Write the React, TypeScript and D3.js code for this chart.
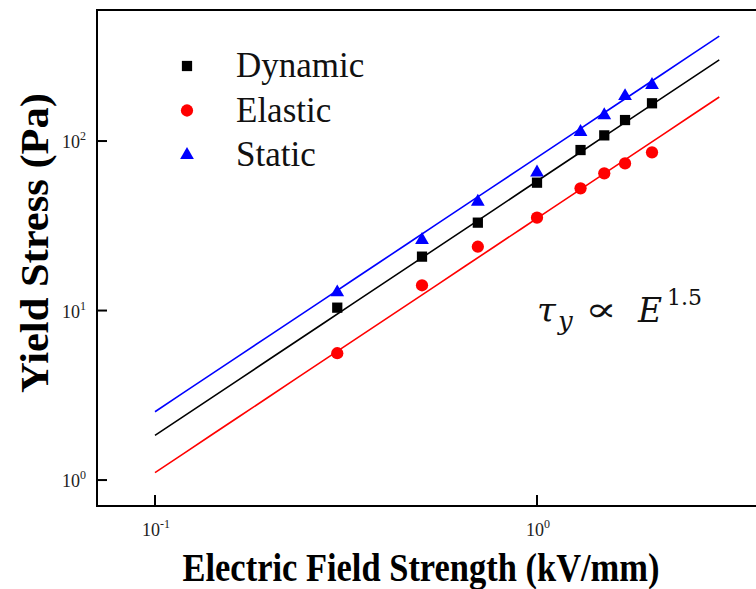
import React from "react";
import * as d3 from "d3";

// Electric field strength (kV/mm) at which yield stress was measured
const fieldStrength = [0.3, 0.5, 0.7, 1.0, 1.3, 1.5, 1.7, 2.0];
// Yield stress (Pa) for each measurement mode
const dynamicStress = [10.4, 20.8, 33.0, 56.8, 88.5, 108, 133, 167];
const elasticStress = [5.6, 14.1, 23.8, 35.3, 52.6, 64.5, 73.8, 85.8];
const staticStress = [12.8, 26.1, 43.8, 65.2, 113, 142, 184, 214];

// Power-law fits  tau = k * E^1.5
const fitExponent = 1.5;
const fitCoefficients = { dynamic: 58, elastic: 35, static: 80 };
const fitRange = [0.1, 3.0];

const xTicks = [0.1, 1];
const xTickExponents = ["-1", "0"];
const yTicks = [1, 10, 100];
const yTickExponents = ["0", "1", "2"];

const W = 756;
const H = 589;
const FONT = "'Liberation Serif', 'Times New Roman', serif";
const MATH_FONT = "'DejaVu Serif', 'Liberation Serif', serif";

export default function App() {
  const x = d3.scaleLog().domain([0.0705, 4.0]).range([97, 767]);
  const y = d3.scaleLog().domain([0.703, 593]).range([506, 10]);

  const series = [
    { key: "dynamic", name: "Dynamic", values: dynamicStress, color: "#000000", symbol: d3.symbolSquare, size: 105 },
    { key: "elastic", name: "Elastic", values: elasticStress, color: "#ff0000", symbol: d3.symbolCircle, size: 118 },
    { key: "static", name: "Static", values: staticStress, color: "#0000ff", symbol: d3.symbolTriangle, size: 82 },
  ] as const;

  const fitLine = (k: number) => {
    const pts = d3.range(0, 21).map((i) => {
      const e = Math.exp(Math.log(fitRange[0]) + (Math.log(fitRange[1]) - Math.log(fitRange[0])) * (i / 20));
      return [e, k * Math.pow(e, fitExponent)] as [number, number];
    });
    return d3
      .line<[number, number]>()
      .x((d) => x(d[0]))
      .y((d) => y(d[1]))(pts) as string;
  };

  const [x0, x1] = x.range();
  const [yb, yt] = y.range();

  return (
    <svg
      width={W}
      height={H}
      style={{ position: "absolute", left: 0, top: 0, background: "#fff" }}
      fontFamily={FONT}
    >
      <rect width={W} height={H} fill="#fff" />

      {/* fitted power-law lines */}
      {series.map((s) => (
        <path
          key={"fit-" + s.key}
          d={fitLine(fitCoefficients[s.key])}
          fill="none"
          stroke={s.color}
          strokeWidth={1.6}
        />
      ))}

      {/* measured points */}
      {series.map((s) =>
        s.values.map((v, i) => (
          <path
            key={s.key + i}
            transform={`translate(${x(fieldStrength[i])},${y(v)})`}
            d={d3.symbol(s.symbol, s.size)() as string}
            fill={s.color}
          />
        ))
      )}

      {/* frame */}
      <line x1={x0} x2={x1} y1={yt} y2={yt} stroke="#000" strokeWidth={2} />
      <line x1={x0} x2={x0} y1={yt - 1} y2={yb + 1} stroke="#000" strokeWidth={2} />
      <line x1={x0 - 1} x2={x1} y1={yb} y2={yb} stroke="#000" strokeWidth={2} />

      {/* y ticks */}
      {yTicks.map((t, i) => (
        <g key={"yt" + t}>
          <line x1={x0} x2={x0 + 10} y1={y(t)} y2={y(t)} stroke="#000" strokeWidth={2} />
          <text x={x0 - 11} y={y(t) + 7} fontFamily={FONT} fontSize={18} textAnchor="end" fill="#222">
            10
            <tspan fontSize={12} dy={-8}>
              {yTickExponents[i]}
            </tspan>
          </text>
        </g>
      ))}

      {/* x ticks */}
      {xTicks.map((t, i) => (
        <g key={"xt" + t}>
          <line x1={x(t)} x2={x(t)} y1={yb} y2={yb - 11} stroke="#000" strokeWidth={2} />
          <text x={x(t) + 1} y={536} fontFamily={FONT} fontSize={18} textAnchor="middle" fill="#222">
            10
            <tspan fontSize={12} dy={-8}>
              {xTickExponents[i]}
            </tspan>
          </text>
        </g>
      ))}

      {/* axis titles */}
      <text
        x={421}
        y={581}
        fontSize={40}
        fontWeight="bold"
        textAnchor="middle"
        textLength={477}
        lengthAdjust="spacingAndGlyphs"
      >
        Electric Field Strength (kV/mm)
      </text>
      <text
        transform="translate(48,243) rotate(-90)"
        fontSize={40}
        fontWeight="bold"
        textAnchor="middle"
        textLength={300}
        lengthAdjust="spacingAndGlyphs"
      >
        Yield Stress (Pa)
      </text>

      {/* legend */}
      {series.map((s, i) => {
        const cy = 66 + i * 44.5;
        return (
          <g key={"lg" + s.key}>
            <path
              transform={`translate(187,${cy})`}
              d={d3.symbol(s.symbol, s.size)() as string}
              fill={s.color}
            />
            <text x={236} y={cy + 11} fontFamily={FONT} fontSize={35} fill="#111">
              {s.name}
            </text>
          </g>
        );
      })}

      {/* scaling law annotation */}
      <g fill="#111" fontFamily={MATH_FONT}>
        <text x={537} y={322} fontSize={34} fontStyle="italic">
          τ
        </text>
        <text x={558} y={330} fontSize={26} fontStyle="italic">
          y
        </text>
        <text x={585} y={321} fontSize={34} textLength={32} lengthAdjust="spacingAndGlyphs">
          ∝
        </text>
        <text x={638} y={322} fontSize={33} fontStyle="italic">
          E
        </text>
        <text x={667} y={305} fontSize={22}>
          1.5
        </text>
      </g>
    </svg>
  );
}
